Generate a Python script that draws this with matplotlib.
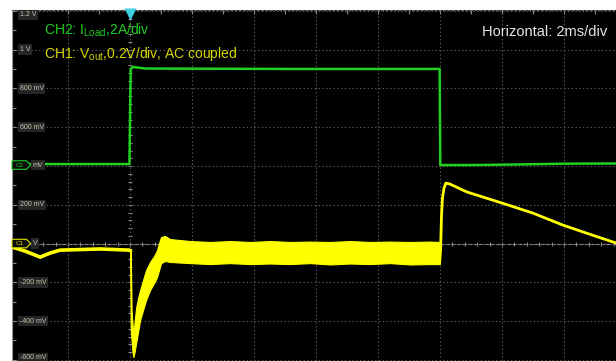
import numpy as np
import matplotlib.pyplot as plt
from matplotlib.patches import Polygon
from matplotlib.transforms import blended_transform_factory

plt.rcParams['font.family'] = ['Liberation Sans', 'DejaVu Sans']
plt.rcParams['mathtext.fontset'] = 'custom'
plt.rcParams['mathtext.rm'] = 'Liberation Sans'

# time in ms, trigger at 0
T_MIN, T_MAX = -3.81, 15.68
V_MIN, V_MAX = -0.606, 1.205

# CH2 load current (A), 2 A/div, offset on screen (V)
ch2_offset = 0.41
ch2_t = [-3.81, -0.02, 0.02, 0.10, 0.25, 0.50, 5.0, 9.99, 10.01, 11.0, 12.5, 14.0, 15.68]
ch2_i = [0.0, 0.0, 4.91, 5.01, 4.98, 4.93, 4.91, 4.91, -0.05, -0.05, -0.02, 0.02, 0.03]

# CH1 Vout (V, AC coupled) before the load step
pre_t = [-3.81, -3.39, -2.90, -2.58, -2.26, -1.61, -0.97, -0.48, -0.03, 0.0]
pre_v = [-0.018, -0.039, -0.070, -0.049, -0.034, -0.031, -0.028, -0.031, -0.034, -0.036]

# CH1 noisy band during the load step: upper / lower envelope
band_t = [0.0, 0.023, 0.048, 0.081, 0.106, 0.145, 0.194, 0.258, 0.323, 0.419,
          0.516, 0.645, 0.774, 0.871, 0.935, 1.0, 1.13, 1.29, 1.94, 2.58,
          3.23, 3.87, 4.52, 5.16, 5.81, 6.45, 7.10, 7.74, 8.39, 9.03,
          9.68, 9.99]
band_hi = [-0.028, -0.044, -0.343, -0.421, -0.472, -0.405, -0.333, -0.281, -0.240, -0.188,
           -0.137, -0.095, -0.065, -0.034, 0.003, 0.034, 0.039, 0.023, 0.013, 0.008,
           0.013, 0.008, 0.013, 0.008, 0.010, 0.008, 0.013, 0.008, 0.010, 0.008,
           0.010, 0.008]
band_lo = [-0.044, -0.446, -0.498, -0.560, -0.586, -0.560, -0.514, -0.457, -0.395, -0.343,
           -0.292, -0.240, -0.204, -0.173, -0.137, -0.101, -0.090, -0.095, -0.101, -0.106,
           -0.101, -0.106, -0.103, -0.106, -0.101, -0.108, -0.103, -0.106, -0.101, -0.108,
           -0.106, -0.106]

# CH1 after the load release
post_t = [9.99, 10.02, 10.05, 10.08, 10.13, 10.19, 10.32, 10.87, 12.0, 13.0, 13.97, 15.0, 15.68]
post_v = [-0.100, -0.030, 0.147, 0.235, 0.286, 0.312, 0.307, 0.266, 0.209, 0.157, 0.095, 0.039, 0.003]

# level labels (400 mV and 0 V are partly hidden behind the channel markers)
y_labels = ['1.2 V', '1 V', '800 mV', '600 mV', '200 mV', '-200 mV', '-400 mV', '-600 mV']
y_label_pos = [1.18, 1.0, 0.8, 0.6, 0.2, -0.2, -0.4, -0.59]
marker_labels = ['C2', 'C1']
marker_tails = ['mV', 'V']
marker_pos = [0.405, 0.0]

GREEN = '#22d022'
YELLOW = '#ffff00'
GRID = '#5c5c5c'

fig = plt.figure(figsize=(6.16, 3.61), dpi=100, facecolor='white')
ax = fig.add_axes([12 / 616, 0, 604 / 616, 351 / 361])
ax.set_facecolor('black')
ax.set_xlim(T_MIN, T_MAX)
ax.set_ylim(V_MIN, V_MAX)

ax.set_xticks(np.arange(-2, 16, 2))
ax.set_yticks(np.arange(-0.6, 1.21, 0.2))
ax.set_xticks(np.arange(-3, 16, 1), minor=True)
ax.set_yticks(np.arange(-0.6, 1.21, 0.1), minor=True)
ax.grid(which='major', color=GRID, ls=(0, (1.2, 2.2)), lw=0.8)
ax.tick_params(which='both', direction='in', left=True, top=True, bottom=False, right=False,
               labelleft=False, labelbottom=False, color='#8a8a8a', length=3, width=0.8)
for side in ['bottom', 'right']:
    ax.spines[side].set_visible(False)
ax.spines['left'].set_color('#9a9a9a')
ax.spines['top'].set_color('#6a6a6a')
ax.spines['top'].set_linestyle((0, (2, 2)))

# centre graticule lines with small ticks
ax.axhline(0, color='#8c8c8c', lw=0.8, ls=(0, (4, 1)), zorder=1)
hticks = np.arange(-3.6, 15.7, 0.4)
ax.plot(hticks, np.zeros(len(hticks)), ls='none', marker='|', ms=3, color='#8c8c8c', mew=0.8, zorder=1)
vticks = np.arange(-0.56, 1.2, 0.04)
ax.plot(np.zeros(len(vticks)), vticks, ls='none', marker='_', ms=3, color='#8c8c8c', mew=0.8, zorder=1)

# traces
ax.plot(ch2_t, ch2_offset + 0.1 * np.array(ch2_i), color=GREEN, lw=1.8, zorder=4)
ax.plot(pre_t, pre_v, color=YELLOW, lw=2.6, zorder=5)
ax.fill_between(band_t, band_lo, band_hi, color=YELLOW, lw=0.8, ec=YELLOW, zorder=5)
ax.plot(post_t, post_v, color=YELLOW, lw=2.0, zorder=5)

# y level labels
tr = blended_transform_factory(ax.transAxes, ax.transData)
for lab, pos in zip(y_labels, y_label_pos):
    ax.text(0.0125, pos, lab, transform=tr, fontsize=5, color='#c8c8b0', va='center', ha='left',
            bbox=dict(boxstyle='square,pad=0.25', fc='#262626', ec='none'), zorder=6)

# channel markers: outlined pentagon tag + the visible tail of the level label
for lab, tail, pos, col in zip(marker_labels, marker_tails, marker_pos, [GREEN, '#e0e000']):
    h = 0.022
    tag = Polygon([[0.0, pos - h], [0.024, pos - h], [0.031, pos], [0.024, pos + h], [0.0, pos + h]],
                  closed=True, transform=tr, fc='#0c0c0c', ec=col, lw=0.8, zorder=7, clip_on=False)
    ax.add_patch(tag)
    ax.text(0.013, pos, lab, transform=tr, fontsize=4.5, color=col, va='center', ha='center', zorder=8)
    ax.text(0.034, pos, tail, transform=tr, fontsize=5, color='#c8c8b0', va='center', ha='left',
            bbox=dict(boxstyle='square,pad=0.25', fc='#262626', ec='none'), zorder=6)

# trigger marker
ax.plot([0], [1.184], marker='v', ms=8, color='#3fcfe0', mec='none', clip_on=False, zorder=8)

fig.text(44 / 616, 1 - 35 / 361, r'CH2: I$_{\mathrm{Load}}$,2A/div', color='#22cc22',
         fontsize=10, va='baseline', ha='left')
fig.text(44 / 616, 1 - 58 / 361, r'CH1: V$_{\mathrm{out}}$,0.2V/div, AC coupled', color='#d8d800',
         fontsize=10, va='baseline', ha='left')
fig.text(607 / 616, 1 - 36 / 361, 'Horizontal: 2ms/div', color='#e6e6e6',
         fontsize=10.5, va='baseline', ha='right')

fig.savefig('out.png', dpi=100, facecolor='white')
